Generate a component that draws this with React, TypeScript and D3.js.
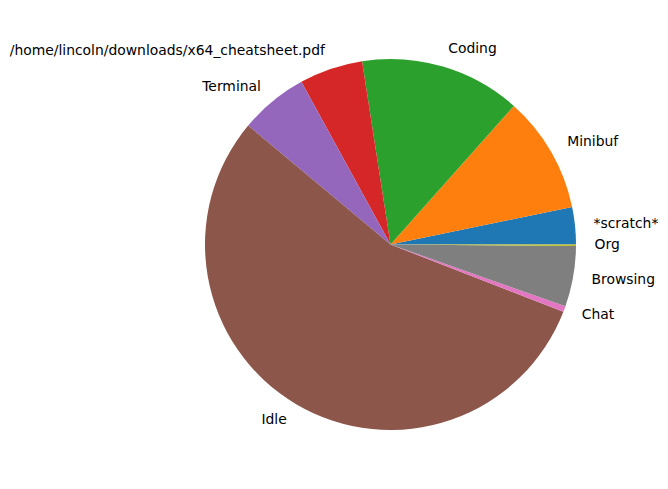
import React from "react";
import * as d3 from "d3";

const labels = ["*scratch*", "Minibuf", "Coding", "/home/lincoln/downloads/x64_cheatsheet.pdf", "Terminal", "Idle", "Chat", "Browsing", "Org"];
const values = [3.25, 10.17, 14.03, 5.53, 5.94, 55.18, 0.5, 5.28, 0.12];
const colors = ["#1f77b4", "#ff7f0e", "#2ca02c", "#d62728", "#9467bd", "#8c564b", "#e377c2", "#7f7f7f", "#bcbd22"];

const W = 668;
const H = 489;
const cx = 390.5;
const cy = 244.5;
const R = 185.5;

export default function App() {
  const pie = d3
    .pie<number>()
    .sort(null)
    .startAngle(Math.PI / 2)
    .endAngle(Math.PI / 2 - 2 * Math.PI);
  const arcs = pie(values);
  const arc = d3.arc<d3.PieArcDatum<number>>().innerRadius(0).outerRadius(R);
  return (
    <svg width={W} height={H} style={{ position: "absolute", left: 0, top: 0 }}>
      <rect width={W} height={H} fill="#ffffff" />
      <g transform={`translate(${cx},${cy})`}>
        {arcs.map((a, i) => (
          <path key={i} d={arc(a) || ""} fill={colors[i]} />
        ))}
        {arcs.map((a, i) => {
          const m = (a.startAngle + a.endAngle) / 2;
          const x = 1.1 * R * Math.sin(m);
          const y = -1.1 * R * Math.cos(m);
          return (
            <text
              key={"t" + i}
              x={x}
              y={y}
              dy="0.28em"
              textAnchor={x >= 0 ? "start" : "end"}
              fontFamily="DejaVu Sans"
              fontSize={13.9}
              fill="#000000"
            >
              {labels[i]}
            </text>
          );
        })}
      </g>
    </svg>
  );
}
